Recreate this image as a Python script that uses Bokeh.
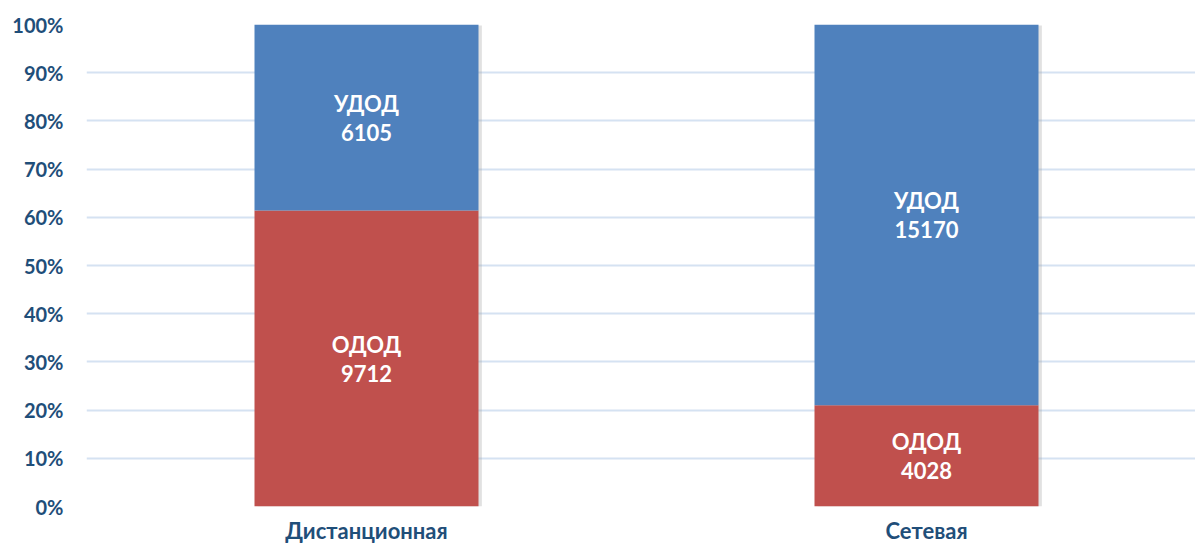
from bokeh.plotting import figure
from bokeh.models import Range1d, FixedTicker, NumeralTickFormatter, ColumnDataSource
from bokeh.core.properties import value
from bokeh.embed import file_html
from bokeh.resources import INLINE

categories = ["Дистанционная", "Сетевая"]
odod = [9712, 4028]
udod = [6105, 15170]
odod_name = "ОДОД"
udod_name = "УДОД"

xs = list(range(len(categories)))
tot = [a + b for a, b in zip(odod, udod)]
odod_frac = [a / t for a, t in zip(odod, tot)]
udod_top = [1.0] * len(categories)

src = ColumnDataSource(dict(
    x=xs,
    odod_top=odod_frac,
    udod_top=udod_top,
    odod_mid=[f / 2 for f in odod_frac],
    udod_mid=[(f + 1) / 2 for f in odod_frac],
    odod_val=[str(v) for v in odod],
    udod_val=[str(v) for v in udod],
    odod_name=[odod_name] * len(categories),
    udod_name=[udod_name] * len(categories),
))

W, H = 1195, 547
p = figure(width=W, height=H, output_backend="svg", toolbar_location=None,
           x_range=Range1d(-0.5, -0.5 + 1109 / 560), y_range=Range1d(0, 1),
           min_border_left=86, min_border_right=0, min_border_top=24, min_border_bottom=41)
p.outline_line_color = None
p.background_fill_color = "white"
p.border_fill_color = "white"

p.xgrid.grid_line_color = None
p.ygrid.grid_line_color = "#D5E2F2"
p.ygrid.grid_line_width = 2
p.ygrid.ticker = FixedTicker(ticks=[i / 10 for i in range(11)])

# soft shadow behind the bars
shadow_x = [x + 0.006 for x in xs]
p.vbar(x=shadow_x, bottom=-0.006, top=0.998, width=0.4,
       fill_color="#9A9A9A", fill_alpha=0.3, line_color=None)

p.vbar(x="x", bottom=0, top="odod_top", width=0.4, source=src,
       fill_color="#C0504D", line_color=None)
p.vbar(x="x", bottom="odod_top", top="udod_top", width=0.4, source=src,
       fill_color="#4F81BD", line_color=None)

fnt = value("Lato")
for mid, name, val in [("odod_mid", "odod_name", "odod_val"), ("udod_mid", "udod_name", "udod_val")]:
    p.text(x="x", y=mid, text=name, source=src, text_font=fnt, text_font_style="bold",
           text_font_size="22px", text_color="white", text_align="center",
           text_baseline="middle", y_offset=-14)
    p.text(x="x", y=mid, text=val, source=src, text_font=fnt, text_font_style="bold",
           text_font_size="22px", text_color="white", text_align="center",
           text_baseline="middle", y_offset=15)

label_color = "#1F4E79"
p.yaxis.ticker = FixedTicker(ticks=[i / 10 for i in range(11)])
p.yaxis.formatter = NumeralTickFormatter(format="0%")
p.yaxis.axis_line_color = None
p.yaxis.major_tick_line_color = None
p.yaxis.minor_tick_line_color = None
p.yaxis.major_label_text_font = "Lato"
p.yaxis.major_label_text_font_style = "bold"
p.yaxis.major_label_text_font_size = "20px"
p.yaxis.major_label_text_color = label_color
p.yaxis.major_label_standoff = 17

p.xaxis.ticker = FixedTicker(ticks=xs)
p.xaxis.major_label_overrides = {i: c for i, c in zip(xs, categories)}
p.xaxis.axis_line_color = None
p.xaxis.major_tick_line_color = None
p.xaxis.minor_tick_line_color = None
p.xaxis.major_tick_out = 0
p.xaxis.major_tick_in = 0
p.xaxis.minor_tick_out = 0
p.xaxis.major_label_text_font = "Lato"
p.xaxis.major_label_text_font_style = "bold"
p.xaxis.major_label_text_font_size = "22px"
p.xaxis.major_label_text_color = label_color
p.xaxis.major_label_standoff = 10

open("out.html", "w").write(file_html(p, INLINE))
